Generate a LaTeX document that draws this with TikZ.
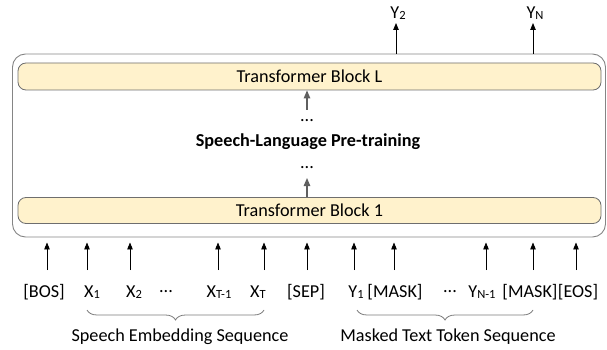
\documentclass[tikz,border=0pt]{standalone}
\usepackage{fontspec}
\setmainfont{Carlito}
\usetikzlibrary{arrows.meta,decorations.pathreplacing,calc}
\definecolor{blockfill}{HTML}{FFF2CC}
\definecolor{blockdraw}{HTML}{6E6E6E}
\definecolor{outerdraw}{HTML}{858585}
\definecolor{arrgray}{HTML}{5F5F5F}
\definecolor{bracegray}{HTML}{7A7A7A}
\newcommand\lowsub[1]{\raisebox{-1.2pt}{\fontsize{12.5}{12.5}\selectfont #1}}
\begin{document}
\begin{tikzpicture}[x=1pt,y=-1pt,
  font=\fontsize{18.2}{22}\selectfont,
  blk/.style={draw=blockdraw, fill=blockfill, rounded corners=8pt, line width=0.8pt, minimum width=583pt, inner sep=0pt},
  outerbox/.style={draw=outerdraw, rounded corners=13pt, line width=0.9pt, minimum width=593pt, minimum height=183pt, inner sep=0pt},
  arr/.style={-{Triangle[length=7pt,width=5.5pt]}, line width=0.9pt},
  garr/.style={-{Triangle[length=8pt,width=6.5pt]}, line width=1.2pt, draw=arrgray, fill=arrgray},
  lab/.style={inner sep=0pt, anchor=center},
  brc/.style={decorate, decoration={brace, mirror, amplitude=10pt}, draw=bracegray, line width=0.8pt}]
\useasboundingbox (0,0) rectangle (607,350);

% outer box and blocks
\node[outerbox] (outer) at (309,145.5) {};
\node[blk, minimum height=27pt] (blockL) at (309.5,76.5) {Transformer Block L};
\node[blk, minimum height=26pt] (block1) at (309.5,210.5) {Transformer Block 1};

% middle
\node[lab] (dotsU) at (307,121) {...};
\node[lab, font=\fontsize{18.2}{22}\selectfont\bfseries] (title) at (308,142) {Speech-Language Pre-training};
\node[lab] (dotsD) at (307,168) {...};
\coordinate (gu) at (307,110);
\coordinate (gd) at (307,178);
\draw[garr] (gu) -- (gu |- blockL.south);
\draw[garr] (block1.north -| gd) -- (gd);

% outputs
\node[lab] (y2) at (398,13) {Y\lowsub{2}};
\node[lab] (yN) at (535,13) {Y\lowsub{N}};
\coordinate (o2) at (396,23);
\coordinate (oN) at (533,23);
\draw[arr] (o2 |- outer.north) -- (o2);
\draw[arr] (oN |- outer.north) -- (oN);

% input labels
\node[lab] (bos) at (44,292) {[BOS]};
\node[lab] (x1) at (92,292) {X\lowsub{1}};
\node[lab] (x2) at (134,292) {X\lowsub{2}};
\node[lab] (xd) at (166,292) {...};
\node[lab] (xt1) at (219,292) {X\lowsub{T-1}};
\node[lab] (xt) at (258,292) {X\lowsub{T}};
\node[lab] (sep) at (306,292) {[SEP]};
\node[lab] (y1) at (356,292) {Y\lowsub{1}};
\node[lab] (m1) at (395,292) {[MASK]};
\node[lab] (yd) at (450,292) {...};
\node[lab] (yn1) at (482,292) {Y\lowsub{N-1}};
\node[lab] (m2) at (530,292) {[MASK]};
\node[lab] (eos) at (578,292) {[EOS]};

% input arrows
\foreach \n/\x in {bos/47, x1/87, x2/130, xt1/218, xt/264, sep/307, y1/354, m1/394, yn1/486, m2/533, eos/576}{
  \coordinate (t\n) at (\x,270);
  \draw[arr, shorten >=5pt] (t\n) -- (t\n |- outer.south);
}

% braces
\coordinate (sa) at (87,310);
\coordinate (sb) at (264,310);
\coordinate (ma) at (357,310);
\coordinate (mb) at (533,310);
\draw[brc] (sa) -- (sb);
\draw[brc] (ma) -- (mb);
\node[lab] (speech) at (180,337) {Speech Embedding Sequence};
\node[lab] (masked) at (448,337) {Masked Text Token Sequence};
\end{tikzpicture}
\end{document}
